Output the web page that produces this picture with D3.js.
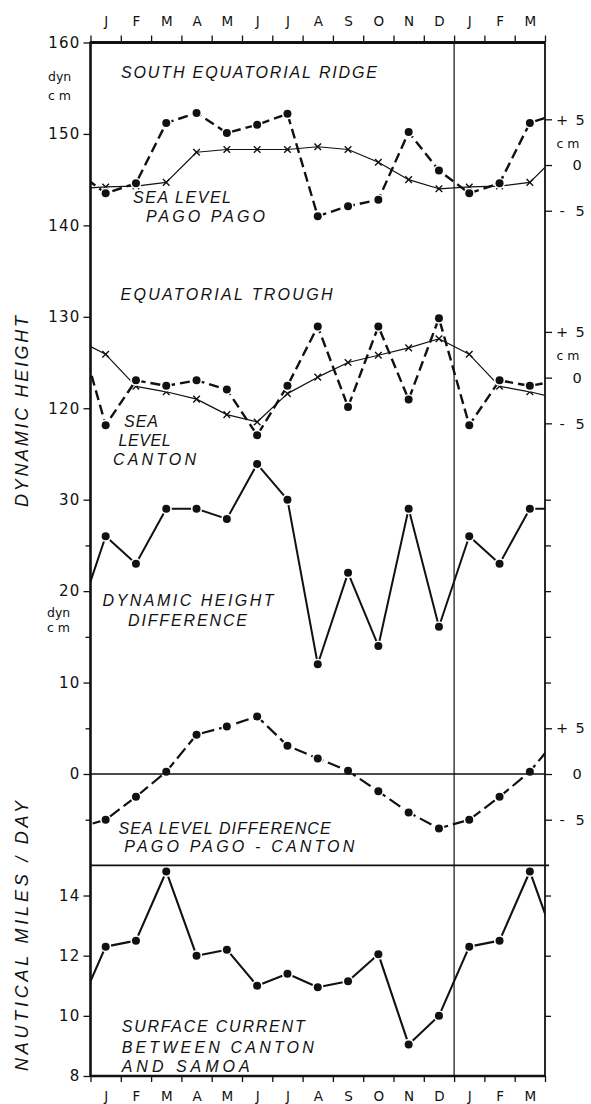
<!DOCTYPE html>
<html>
<head>
<meta charset="utf-8">
<script src="https://cdn.jsdelivr.net/npm/d3@7"></script>
<style>
  html, body { margin: 0; padding: 0; background: #fff; }
  svg { display: block; }
  text { fill: #111; }
</style>
</head>
<body>
<svg id="chart" width="591" height="1104"></svg>
<script>
// Month labels along the top and bottom: one year plus the following J F M
const months = ["J","F","M","A","M","J","J","A","S","O","N","D","J","F","M"];

// Monthly means, January .. December (the cycle repeats after December)
// South equatorial ridge, dynamic height (dyn cm)
const ridgeDynHeight   = [144.2, 144.3, 144.7, 148.0, 148.3, 148.3, 148.3, 148.6, 148.3, 146.9, 145.0, 144.0];
// Sea level at Pago Pago (cm about the mean)
const seaLevelPagoPago = [-3.1, -2.0, 4.6, 5.7, 3.5, 4.4, 5.6, -5.6, -4.5, -3.8, 3.6, -0.6];
// Equatorial trough, dynamic height (dyn cm)
const troughDynHeight  = [125.9, 122.4, 121.8, 121.0, 119.3, 118.5, 121.6, 123.4, 125.0, 125.8, 126.6, 127.6];
// Sea level at Canton (cm about the mean)
const seaLevelCanton   = [-5.2, -0.3, -0.9, -0.3, -1.3, -6.3, -0.9, 5.6, -3.2, 5.6, -2.4, 6.5];
// Dynamic height difference ridge - trough (dyn cm)
const dynHeightDiff    = [26.0, 23.0, 29.0, 29.0, 27.9, 33.9, 30.0, 12.0, 22.0, 14.0, 29.0, 16.1];
// Sea level difference Pago Pago - Canton (cm)
const seaLevelDiff     = [-5.0, -2.5, 0.25, 4.3, 5.2, 6.3, 3.1, 1.7, 0.35, -1.9, -4.2, -5.95];
// Surface current between Canton and Samoa (nautical miles / day)
const surfaceCurrent   = [12.3, 12.5, 14.8, 12.0, 12.2, 11.0, 11.4, 10.95, 11.15, 12.05, 9.05, 10.0];

// Axis tick values
const dynTicks      = [120, 130, 140, 150, 160];
const diffTicks     = [0, 10, 20, 30];
const diffMinor     = [-5, 5, 15, 25];
const seaTicks      = [-5, 0, 5];
const currentTicks  = [8, 10, 12, 14];

const frame = { left: 90.5, right: 545, top: 42.5, bottom: 1076 };
const svg = d3.select("#chart");

// Scales
const x = d3.scaleLinear().domain([0, 15]).range([frame.left, frame.right]);
// The upper dynamic heights and the difference share one pixel scale (30 sits where 110 would)
const yDyn  = d3.scaleLinear().domain([80, 160]).range([774, frame.top]);
const yDiff = d3.scaleLinear().domain([0, 80]).range([774, frame.top]);
const ridgeSeaZero = 146.6, troughSeaZero = 123.35;
const ySeaRidge  = d3.scaleLinear().domain([-5, 5]).range([yDyn(ridgeSeaZero - 5), yDyn(ridgeSeaZero + 5)]);
const ySeaTrough = d3.scaleLinear().domain([-5, 5]).range([yDyn(troughSeaZero - 5), yDyn(troughSeaZero + 5)]);
const separatorY = yDiff(-10);
const yCurrent = d3.scaleLinear().domain([8, 15]).range([frame.bottom, separatorY]);

const FONT = "'DejaVu Sans', 'Liberation Sans', sans-serif";
const LETTER = "'Liberation Sans', 'DejaVu Sans', sans-serif";

// Clip for the data lines
svg.append("defs").append("clipPath").attr("id", "plotClip")
  .append("rect")
  .attr("x", frame.left).attr("y", frame.top)
  .attr("width", frame.right - frame.left).attr("height", frame.bottom - frame.top);

// Previous December through following April so each line runs to both frame edges
function cycle(values) {
  return d3.range(-1, 16).map(i => ({ pos: i + 0.5, v: values[(i + 12) % 12], shown: i >= 0 && i < 15 }));
}

const plot = svg.append("g");

function drawSeries(values, yScale, opt) {
  const pts = cycle(values);
  const line = d3.line().x(d => x(d.pos)).y(d => yScale(d.v));
  const g = plot.append("g");
  g.append("path")
    .datum(pts)
    .attr("clip-path", "url(#plotClip)")
    .attr("d", line)
    .attr("fill", "none")
    .attr("stroke", "#111")
    .attr("stroke-width", opt.width)
    .attr("stroke-dasharray", opt.dash || null)
    .attr("stroke-linejoin", "round");
  const shown = pts.filter(d => d.shown);
  if (opt.marker === "dot") {
    g.selectAll("circle.halo").data(shown).join("circle")
      .attr("class", "halo")
      .attr("cx", d => x(d.pos)).attr("cy", d => yScale(d.v))
      .attr("r", 5.6).attr("fill", "#fff");
    g.selectAll("circle.dot").data(shown).join("circle")
      .attr("class", "dot")
      .attr("cx", d => x(d.pos)).attr("cy", d => yScale(d.v))
      .attr("r", 4).attr("fill", "#111");
  } else {
    const s = 3.3;
    g.selectAll("path.cross").data(shown).join("path")
      .attr("class", "cross")
      .attr("d", d => {
        const cx = x(d.pos), cy = yScale(d.v);
        return `M${cx - s},${cy - s}L${cx + s},${cy + s}M${cx - s},${cy + s}L${cx + s},${cy - s}`;
      })
      .attr("stroke", "#111").attr("stroke-width", 1.4).attr("fill", "none");
  }
}

// Frame, divider, zero line and panel separator
const frameG = svg.append("g").attr("stroke", "#111").attr("fill", "none");
frameG.append("line").attr("x1", frame.left).attr("x2", frame.left).attr("y1", frame.top - 1).attr("y2", frame.bottom + 1).attr("stroke-width", 2.6);
frameG.append("line").attr("x1", frame.left).attr("x2", frame.right).attr("y1", frame.top).attr("y2", frame.top).attr("stroke-width", 2.8);
frameG.append("line").attr("x1", frame.left).attr("x2", frame.right).attr("y1", frame.bottom).attr("y2", frame.bottom).attr("stroke-width", 2.4);
frameG.append("line").attr("x1", frame.right).attr("x2", frame.right).attr("y1", frame.top).attr("y2", frame.bottom).attr("stroke-width", 1.8);
frameG.append("line").attr("x1", x(12)).attr("x2", x(12)).attr("y1", frame.top).attr("y2", frame.bottom).attr("stroke-width", 1.2);
frameG.append("line").attr("x1", frame.left).attr("x2", frame.right).attr("y1", yDiff(0)).attr("y2", yDiff(0)).attr("stroke-width", 1.3);
frameG.append("line").attr("x1", frame.left).attr("x2", frame.right + 4).attr("y1", separatorY).attr("y2", separatorY).attr("stroke-width", 1.8);

// Series
drawSeries(ridgeDynHeight, yDyn, { marker: "cross", width: 1.2 });
drawSeries(seaLevelPagoPago, ySeaRidge, { marker: "dot", width: 2.4, dash: "10,5" });
drawSeries(troughDynHeight, yDyn, { marker: "cross", width: 1.2 });
drawSeries(seaLevelCanton, ySeaTrough, { marker: "dot", width: 2.4, dash: "10,5" });
drawSeries(dynHeightDiff, yDiff, { marker: "dot", width: 2.0 });
drawSeries(seaLevelDiff, yDiff, { marker: "dot", width: 2.2, dash: "13,5" });
drawSeries(surfaceCurrent, yCurrent, { marker: "dot", width: 2.1 });

// Axes
function styleAxis(g, fontSize) {
  g.select(".domain").remove();
  g.selectAll(".tick line").attr("stroke", "#111").attr("stroke-width", 1.3);
  g.selectAll(".tick text").attr("font-family", FONT).attr("font-size", fontSize).attr("fill", "#111");
}

// Month boundaries, top and bottom
svg.append("g").attr("transform", `translate(0,${frame.top})`)
  .call(d3.axisTop(x).tickValues(d3.range(0, 16)).tickSize(7).tickFormat(""))
  .call(g => styleAxis(g, 13));
svg.append("g").attr("transform", `translate(0,${frame.bottom})`)
  .call(d3.axisBottom(x).tickValues(d3.range(0, 16)).tickSize(6).tickFormat(""))
  .call(g => styleAxis(g, 13));

// Month letters at month centres
const monthCentres = d3.range(15).map(i => i + 0.5);
svg.append("g").attr("transform", `translate(0,${frame.top})`)
  .call(d3.axisTop(x).tickValues(monthCentres).tickSize(0).tickPadding(16.5).tickFormat((d, i) => months[i]))
  .call(g => styleAxis(g, 13.5));
svg.append("g").attr("transform", `translate(0,${frame.bottom})`)
  .call(d3.axisBottom(x).tickValues(monthCentres).tickSize(0).tickPadding(15).tickFormat((d, i) => months[i]))
  .call(g => styleAxis(g, 13.5));

// Left axes
function leftAxis(scale, ticks, size, labelled) {
  svg.append("g").attr("transform", `translate(${frame.left},0)`)
    .call(d3.axisLeft(scale).tickValues(ticks).tickSize(size).tickPadding(3).tickFormat(labelled ? d3.format("d") : ""))
    .call(g => styleAxis(g, 15))
    .call(g => g.selectAll(".tick text").attr("letter-spacing", 1.2));
}
leftAxis(yDyn, dynTicks, 7, true);
leftAxis(yDiff, diffTicks, 7, true);
leftAxis(yDiff, diffMinor, 5, false);
leftAxis(yCurrent, currentTicks, 7, true);

// Right axes
function rightAxis(scale, ticks, size) {
  return svg.append("g").attr("transform", `translate(${frame.right},0)`)
    .call(d3.axisRight(scale).tickValues(ticks).tickSize(size).tickFormat(""))
    .call(g => styleAxis(g, 14));
}
rightAxis(yDiff, [10, 15, 20, 25, 30], 6);
rightAxis(yCurrent, [10, 12, 14], 6);

// Sea level scales (cm) with signed labels
function seaAxis(scale) {
  rightAxis(scale, seaTicks, 7);
  const lab = svg.append("g").attr("font-family", FONT).attr("font-size", 14.5);
  seaTicks.forEach(t => {
    const yy = scale(t) + 5.2;
    if (t === 0) {
      lab.append("text").attr("x", 577).attr("y", yy).attr("text-anchor", "middle").text("0");
    } else {
      lab.append("text").attr("x", 562).attr("y", yy).attr("text-anchor", "middle").text(t > 0 ? "+" : "-");
      lab.append("text").attr("x", 580).attr("y", yy).attr("text-anchor", "middle").text(Math.abs(t));
    }
  });
}
seaAxis(ySeaRidge);
seaAxis(ySeaTrough);
seaAxis(yDiff);

// Unit labels
function unitLabel(txt, xx, yc, size, anchor) {
  svg.append("text").attr("x", xx).attr("y", yc + size * 0.36)
    .attr("text-anchor", anchor || "start")
    .attr("font-family", FONT).attr("font-size", size).text(txt);
}
unitLabel("dyn", 48, 76, 12.5);
unitLabel("c m", 48, 95, 12.5);
unitLabel("dyn", 47, 612, 12.5);
unitLabel("c m", 47, 627, 12.5);
unitLabel("c m", 568, ySeaRidge(2.4), 12.5, "middle");
unitLabel("c m", 568, ySeaTrough(2.4), 12.5, "middle");

// Panel captions (oblique lettering)
const captions = [
  ["SOUTH EQUATORIAL RIDGE", 121, 72, 256],
  ["SEA LEVEL", 133, 197, 98],
  ["PAGO PAGO", 146, 216, 119],
  ["EQUATORIAL TROUGH", 120.5, 294.5, 212],
  ["SEA", 124, 421, 34],
  ["LEVEL", 118.6, 440, 52],
  ["CANTON", 113, 459, 83],
  ["DYNAMIC HEIGHT", 102.6, 600.4, 171],
  ["DIFFERENCE", 128, 619.7, 119],
  ["SEA LEVEL DIFFERENCE", 118.6, 828, 212],
  ["PAGO PAGO - CANTON", 124.3, 846.4, 230],
  ["SURFACE CURRENT", 121.7, 1026.4, 183],
  ["BETWEEN CANTON", 121.7, 1047.5, 192],
  ["AND SAMOA", 121.7, 1066, 128]
];
svg.append("g").selectAll("text").data(captions).join("text")
  .attr("x", d => d[1]).attr("y", d => d[2] + 5.8)
  .attr("textLength", d => d[3]).attr("lengthAdjust", "spacing")
  .attr("font-family", LETTER).attr("font-style", "italic").attr("font-size", 16)
  .text(d => d[0]);

// Rotated axis titles
function title(txt, cy, len) {
  const size = 18;
  svg.append("text")
    .attr("transform", `translate(${21.5 + size * 0.36},${cy}) rotate(-90)`)
    .attr("text-anchor", "middle")
    .attr("textLength", len).attr("lengthAdjust", "spacing")
    .attr("font-family", LETTER).attr("font-style", "italic").attr("font-size", size)
    .text(txt);
}
title("DYNAMIC HEIGHT", 411.5, 191);
title("NAUTICAL MILES / DAY", 936, 270);
</script>
</body>
</html>
